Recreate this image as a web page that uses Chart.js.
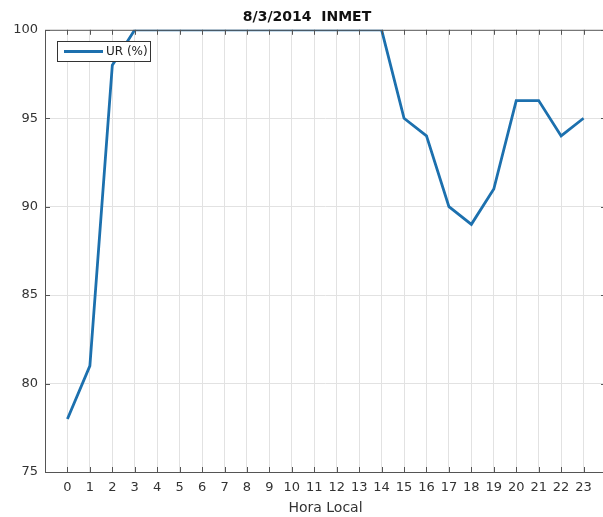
<!DOCTYPE html>
<html>
<head>
<meta charset="utf-8">
<script src="https://cdn.jsdelivr.net/npm/chart.js@4.4.0/dist/chart.umd.min.js"></script>
<style>
  html, body { margin: 0; padding: 0; background: #fff; overflow: hidden; }
  #wrap { width: 614px; height: 517px; }
</style>
</head>
<body>
<div id="wrap"><canvas id="chart" width="614" height="517"></canvas></div>
<script>
// Hourly relative humidity, INMET station
const hours = [0, 1, 2, 3, 4, 5, 6, 7, 8, 9, 10, 11, 12, 13, 14, 15, 16, 17, 18, 19, 20, 21, 22, 23];
const humidity = [78, 81, 98, 100, 100, 100, 100, 100, 100, 100, 100, 100, 100, 100, 100, 95, 94, 90, 89, 91, 96, 96, 94, 95];
const yTicks = [75, 80, 85, 90, 95, 100];

const lineColor = '#1c70ae';
const frameColor = '#555';
const fontFamily = '"DejaVu Sans", sans-serif';

// MATLAB style box with inward ticks + legend box
const boxPlugin = {
    id: 'box',
    afterDraw(chart) {
        const { ctx, chartArea: a, scales: { x, y } } = chart;
        ctx.save();
        ctx.strokeStyle = frameColor;
        ctx.lineWidth = 1;
        ctx.strokeRect(a.left + 0.5, a.top + 0.5, a.right - a.left, a.bottom - a.top);

        ctx.beginPath();
        hours.forEach(h => {
            const px = Math.round(x.getPixelForValue(h)) + 0.5;
            ctx.moveTo(px, a.bottom); ctx.lineTo(px, a.bottom - 5);
            ctx.moveTo(px, a.top); ctx.lineTo(px, a.top + 5);
        });
        yTicks.forEach(v => {
            const py = Math.round(y.getPixelForValue(v)) + 0.5;
            ctx.moveTo(a.left, py); ctx.lineTo(a.left + 5, py);
            ctx.moveTo(a.right, py); ctx.lineTo(a.right - 5, py);
        });
        ctx.stroke();

        // legend
        const lx = 57, ly = 41;
        ctx.fillStyle = '#fff';
        ctx.fillRect(lx, ly, 93, 20);
        ctx.strokeStyle = '#333';
        ctx.strokeRect(lx + 0.5, ly + 0.5, 93, 20);
        ctx.strokeStyle = lineColor;
        ctx.lineWidth = 2.8;
        ctx.beginPath();
        ctx.moveTo(lx + 7, ly + 10.5); ctx.lineTo(lx + 46, ly + 10.5);
        ctx.stroke();
        ctx.fillStyle = '#222';
        ctx.font = '12px ' + fontFamily;
        ctx.textBaseline = 'middle';
        ctx.fillText(chart.data.datasets[0].label, lx + 49, ly + 11);
        ctx.restore();
    }
};

new Chart(document.getElementById('chart'), {
    type: 'line',
    data: {
        datasets: [{
            label: 'UR (%)',
            data: hours.map((h, i) => ({ x: h, y: humidity[i] })),
            borderColor: lineColor,
            borderWidth: 2.8,
            pointRadius: 0,
            tension: 0,
            fill: false
        }]
    },
    options: {
        responsive: false,
        animation: false,
        layout: { padding: { left: 0, right: 0, top: 0, bottom: 0 } },
        plugins: {
            legend: { display: false },
            tooltip: { enabled: false },
            title: {
                display: true,
                text: '8/3/2014  INMET',
                color: '#111',
                font: { family: fontFamily, size: 14, weight: 'bold' },
                padding: { top: 9, bottom: 4 }
            }
        },
        scales: {
            x: {
                type: 'linear',
                min: -1,
                max: 24,
                afterFit(s) { s.height = 45; },
                border: { display: false },
                grid: {
                    drawTicks: false,
                    color: ctx => (ctx.tick && ctx.tick.value >= 0 && ctx.tick.value <= 23) ? '#e2e2e2' : 'rgba(0,0,0,0)'
                },
                ticks: {
                    stepSize: 1,
                    autoSkip: false,
                    maxRotation: 0,
                    padding: 8,
                    color: '#333',
                    font: { family: fontFamily, size: 13 },
                    callback: v => (v >= 0 && v <= 23) ? String(v) : ''
                },
                title: {
                    display: true,
                    text: 'Hora Local',
                    color: '#333',
                    font: { family: fontFamily, size: 14 },
                    padding: { top: 4, bottom: 0 }
                }
            },
            y: {
                min: 75,
                max: 100,
                afterFit(s) { s.width = 45; },
                border: { display: false },
                grid: {
                    drawTicks: false,
                    color: ctx => (ctx.tick && ctx.tick.value > 75 && ctx.tick.value < 100) ? '#e2e2e2' : 'rgba(0,0,0,0)'
                },
                ticks: {
                    stepSize: 5,
                    padding: 7,
                    color: '#333',
                    font: { family: fontFamily, size: 13 }
                }
            }
        }
    },
    plugins: [boxPlugin]
});
</script>
</body>
</html>
